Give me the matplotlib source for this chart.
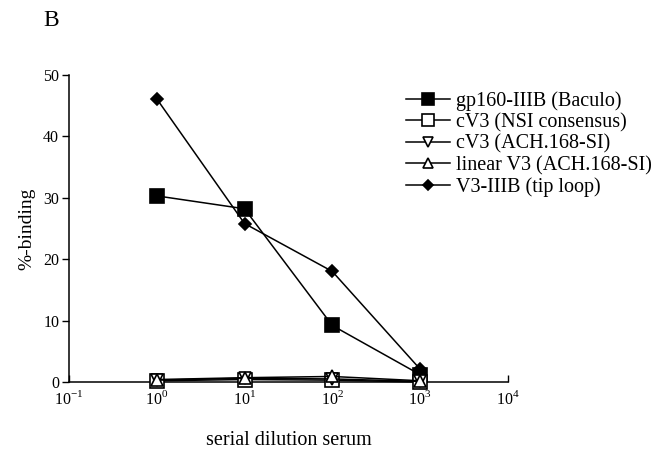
import matplotlib
matplotlib.use("Agg")
import matplotlib.pyplot as plt

plt.rcParams['font.family'] = ['Liberation Serif', 'DejaVu Serif']
plt.rcParams['mathtext.fontset'] = 'custom'
plt.rcParams['mathtext.rm'] = 'Liberation Serif'

dilution = [1, 10, 100, 1000]
labels = ["gp160-IIIB (Baculo)", "cV3 (NSI consensus)", "cV3 (ACH.168-SI)",
          "linear V3 (ACH.168-SI)", "V3-IIIB (tip loop)"]
gp160 = [30.3, 28.2, 9.2, 1.2]
cv3_nsi = [0.2, 0.4, 0.3, 0.0]
cv3_ach = [0.3, 0.6, 0.5, 0.1]
linear_v3 = [0.4, 0.7, 0.9, 0.2]
v3_iiib = [46.1, 25.8, 18.0, 2.1]
xticks = [0.1, 1, 10, 100, 1000, 10000]
xticklabels = ["$10^{-1}$", "$10^{0}$", "$10^{1}$", "$10^{2}$", "$10^{3}$", "$10^{4}$"]
yticks = [0, 10, 20, 30, 40, 50]

fig = plt.figure(figsize=(6.63, 4.51), dpi=100)
ax = fig.add_axes([0.104, 0.153, 0.662, 0.681])

series = [gp160, cv3_nsi, cv3_ach, linear_v3, v3_iiib]
styles = [dict(marker='s', mfc='black', ms=10),
          dict(marker='s', mfc='white', ms=10),
          dict(marker='v', mfc='white', ms=8),
          dict(marker='^', mfc='white', ms=8),
          dict(marker='D', mfc='black', ms=6.5)]
for vals, lab, st in zip(series, labels, styles):
    ax.plot(dilution, vals, color='black', lw=1.1, mec='black', mew=1.2,
            label=lab, clip_on=False, zorder=3, **st)

ax.set_xscale('log')
ax.set_xlim(0.1, 10000)
ax.set_ylim(0, 50)
ax.set_xticks(xticks)
ax.set_xticklabels(xticklabels)
ax.minorticks_off()
ax.set_yticks(yticks)
ax.spines['top'].set_visible(False)
ax.spines['right'].set_visible(False)
ax.tick_params(axis='y', direction='out', length=5, width=1, labelsize=11.5, pad=2)
ax.tick_params(axis='x', direction='in', length=5, width=1, labelsize=11.5, pad=6)
for s in ['left', 'bottom']:
    ax.spines[s].set_linewidth(1.1)

ax.set_ylabel("%-binding", fontsize=14, labelpad=6)
ax.set_xlabel("serial dilution serum", fontsize=14.5, labelpad=16)

fig.text(0.065, 0.955, "B", fontsize=17, va='center')

fig.legend(loc='upper left', bbox_to_anchor=(0.6, 0.815), frameon=False,
           fontsize=14.5, handlelength=2.2, handletextpad=0.3, labelspacing=0.1,
           markerscale=0.85, borderaxespad=0)

fig.savefig("out.png", dpi=100)
